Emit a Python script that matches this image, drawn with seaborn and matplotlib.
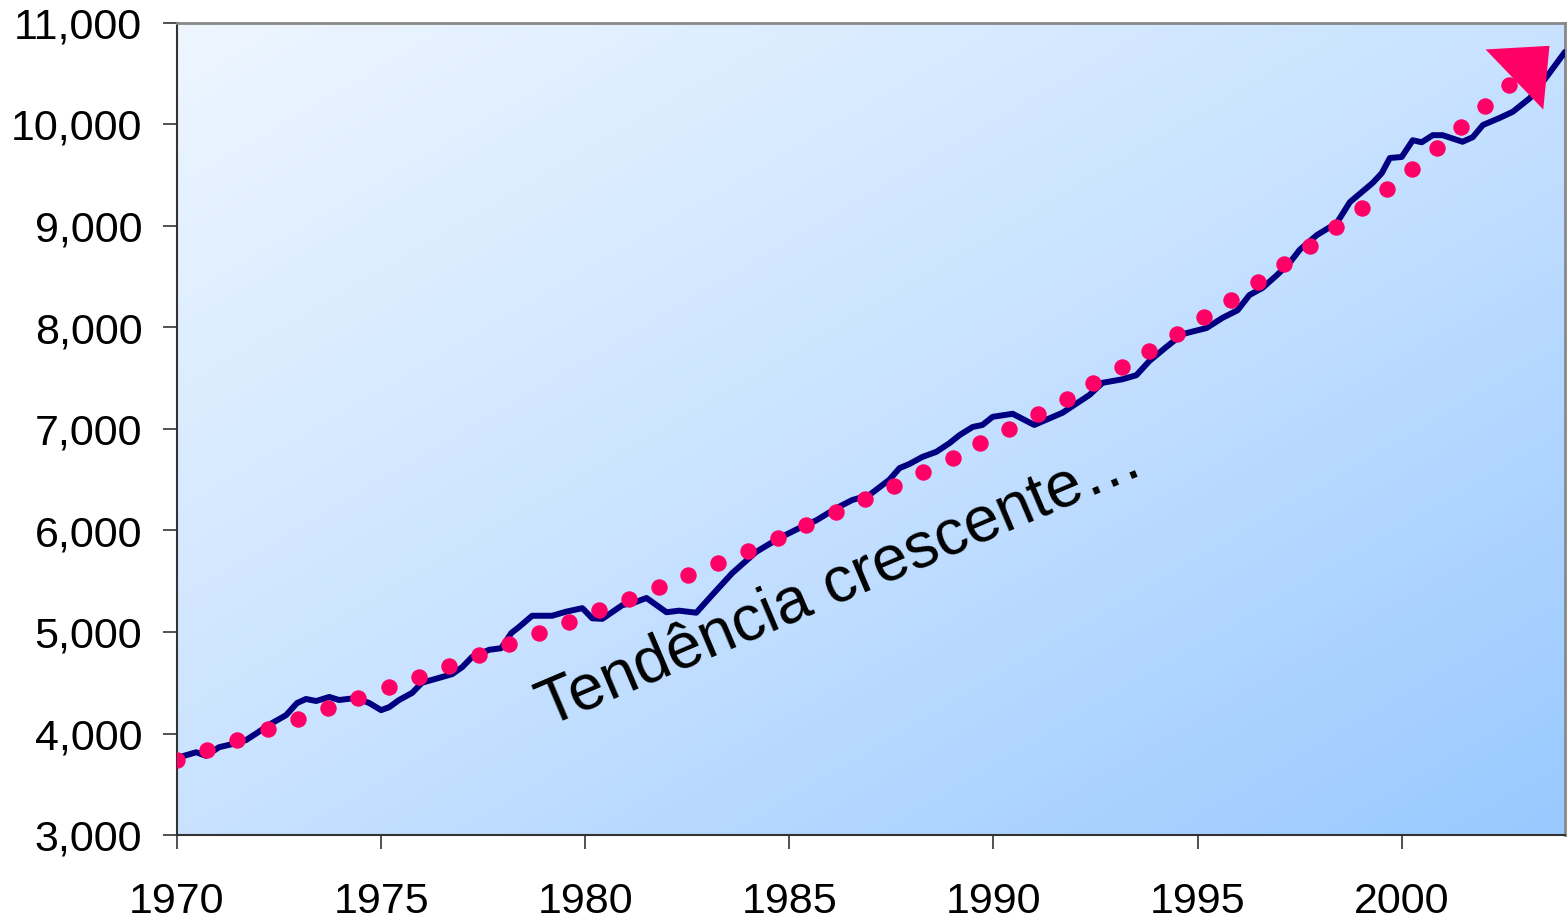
import numpy as np
import pandas as pd
import seaborn as sns
import matplotlib
matplotlib.use("Agg")
from matplotlib import pyplot as plt
from matplotlib.colors import LinearSegmentedColormap
from matplotlib.ticker import StrMethodFormatter

# series (vertices of the navy line)
line_year = [1970.00, 1970.47, 1970.71, 1971.03, 1971.35, 1971.69, 1971.96, 1972.25, 1972.67, 1972.94,
             1973.16, 1973.41, 1973.73, 1973.97, 1974.39, 1974.71, 1975.00, 1975.20, 1975.44, 1975.76,
             1976.00, 1976.35, 1976.74, 1976.99, 1977.23, 1977.65, 1977.94, 1978.19, 1978.38, 1978.70,
             1979.19, 1979.53, 1979.93, 1980.17, 1980.42, 1980.91, 1981.20, 1981.50, 1981.99, 1982.30,
             1982.72, 1983.11, 1983.60, 1984.19, 1984.75, 1985.25, 1985.66, 1986.15, 1986.54, 1986.96,
             1987.45, 1987.70, 1987.94, 1988.26, 1988.60, 1988.92, 1989.17, 1989.49, 1989.73, 1989.98,
             1990.47, 1991.00, 1991.69, 1992.35, 1992.67, 1993.16, 1993.50, 1993.82, 1994.24, 1994.63,
             1995.22, 1995.61, 1995.98, 1996.27, 1996.59, 1996.94, 1997.25, 1997.50, 1997.92, 1998.41,
             1998.73, 1999.29, 1999.51, 1999.71, 2000.00, 2000.27, 2000.49, 2000.76, 2001.00, 2001.49,
             2001.74, 2001.99, 2002.40, 2002.72, 2003.14, 2003.55, 2004.00]
line_value = [3760, 3815, 3780, 3865, 3895, 3935, 4005, 4085, 4180, 4300,
              4340, 4320, 4360, 4330, 4350, 4300, 4230, 4260, 4330, 4400,
              4500, 4540, 4585, 4655, 4755, 4825, 4840, 4990, 5050, 5160,
              5160, 5200, 5235, 5135, 5130, 5265, 5290, 5335, 5195, 5210,
              5190, 5365, 5580, 5790, 5925, 6025, 6100, 6220, 6300, 6350,
              6500, 6615, 6655, 6725, 6775, 6860, 6940, 7020, 7040, 7120,
              7150, 7040, 7160, 7335, 7455, 7490, 7530, 7670, 7810, 7935,
              7995, 8095, 8170, 8320, 8390, 8515, 8635, 8765, 8910, 9030,
              9235, 9425, 9520, 9670, 9680, 9845, 9825, 9895, 9895, 9830,
              9875, 9995, 10065, 10125, 10260, 10470, 10715]

# pink trend dots
trend_year = [1970.00, 1970.74, 1971.47, 1972.23, 1972.97, 1973.70, 1974.44, 1975.20, 1975.93, 1976.67,
              1977.40, 1978.14, 1978.87, 1979.61, 1980.34, 1981.08, 1981.81, 1982.52, 1983.26, 1983.99,
              1984.71, 1985.42, 1986.15, 1986.86, 1987.57, 1988.28, 1989.00, 1989.68, 1990.39, 1991.08,
              1991.79, 1992.45, 1993.14, 1993.82, 1994.49, 1995.15, 1995.81, 1996.47, 1997.11, 1997.75,
              1998.38, 1999.02, 1999.63, 2000.25, 2000.86, 2001.45, 2002.03, 2002.62]
trend_value = [3740, 3837, 3936, 4044, 4143, 4251, 4350, 4458, 4557, 4665,
               4773, 4882, 4990, 5098, 5217, 5325, 5443, 5562, 5680, 5798,
               5926, 6054, 6182, 6310, 6438, 6576, 6714, 6862, 7000, 7148,
               7295, 7453, 7611, 7768, 7936, 8103, 8271, 8448, 8625, 8803,
               8990, 9177, 9364, 9561, 9768, 9975, 10182, 10389]

# arrow tip continuing the trend
arrow_tip_year = 2003.62
arrow_tip_value = 10775

label_text = "Tendência crescente…"
label_year = 1986.25
label_value = 5470

x_ticks = [1970, 1975, 1980, 1985, 1990, 1995, 2000]
y_ticks = [3000, 4000, 5000, 6000, 7000, 8000, 9000, 10000, 11000]

df_line = pd.DataFrame({"year": line_year, "value": line_value})
df_trend = pd.DataFrame({"year": trend_year, "value": trend_value})

sns.set_style("ticks")
plt.rcParams["font.family"] = ["Liberation Sans", "DejaVu Sans"]

fig = plt.figure(figsize=(15.68, 9.22), dpi=100)
ax = fig.add_axes([177 / 1568, 1 - 835 / 922, (1565 - 177) / 1568, (835 - 23) / 922])

# diagonal blue gradient background
n = 300
gx, gy = np.meshgrid(np.linspace(0, 1, n), np.linspace(0, 1, n))
grad = (gx + (1 - gy)) / 2
cmap = LinearSegmentedColormap.from_list("bg", ["#eef6ff", "#c8e2ff", "#99c9ff"])
ax.imshow(grad, cmap=cmap, origin="lower", extent=(0, 1, 0, 1),
          transform=ax.transAxes, aspect="auto", zorder=0, interpolation="bilinear")

sns.lineplot(data=df_line, x="year", y="value", color="#000080", linewidth=4.3, ax=ax, zorder=3)
sns.scatterplot(data=df_trend, x="year", y="value", color="#ff0066", s=140, linewidth=0, ax=ax, zorder=4)

ax.annotate("", xy=(arrow_tip_year, arrow_tip_value), xytext=(trend_year[-1], trend_value[-1]),
            arrowprops=dict(arrowstyle="-|>,head_length=35,head_width=30", mutation_scale=1,
                            color="#ff0066", lw=0, shrinkA=0, shrinkB=0), zorder=5)

ax.text(label_year, label_value, label_text, rotation=23, rotation_mode="anchor",
        ha="center", va="center", fontsize=46, color="black", zorder=6)

ax.set_xlim(1970, 2004)
ax.set_ylim(3000, 11000)
ax.set_xticks(x_ticks)
ax.set_yticks(y_ticks)
ax.yaxis.set_major_formatter(StrMethodFormatter("{x:,.0f}"))
ax.set_xlabel("")
ax.set_ylabel("")

ax.tick_params(axis="x", length=10, width=1.2, color="#333333", pad=24, labelsize=31, labelcolor="black")
ax.tick_params(axis="y", length=10, width=1.2, color="#333333", pad=15, labelsize=31, labelcolor="black")

for side in ["left", "bottom"]:
    ax.spines[side].set_color("#333333")
    ax.spines[side].set_linewidth(1.5)
for side in ["top", "right"]:
    ax.spines[side].set_visible(True)
    ax.spines[side].set_color("#888888")
    ax.spines[side].set_linewidth(2)

plt.savefig("out.png", dpi=100)
plt.close()
